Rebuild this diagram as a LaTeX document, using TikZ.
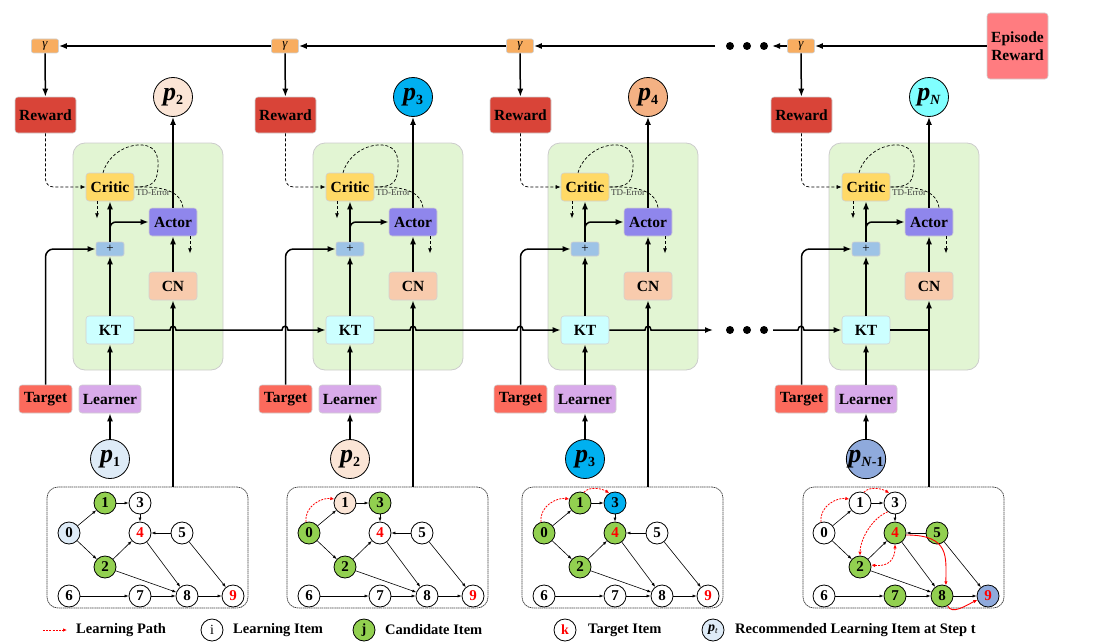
\documentclass[tikz,border=0pt]{standalone}
\usepackage{fontspec}
\setmainfont{Liberation Serif}
\usetikzlibrary{arrows.meta,calc}
\definecolor{cGam}{RGB}{248,173,96}
\definecolor{cRew}{RGB}{217,68,56}
\definecolor{cTarget}{RGB}{252,106,92}
\definecolor{cLearner}{RGB}{216,170,234}
\definecolor{cKT}{HTML}{CCFFFF}
\definecolor{cCN}{HTML}{F8CBAD}
\definecolor{cPlus}{HTML}{9DC3E6}
\definecolor{cCritic}{HTML}{FFD966}
\definecolor{cActor}{RGB}{143,134,236}
\definecolor{cPanel}{RGB}{226,245,211}
\definecolor{cP1}{HTML}{DEEBF7}
\definecolor{cP2}{HTML}{FBE5D6}
\definecolor{cP3}{HTML}{00B0F0}
\definecolor{cP4}{HTML}{F4B183}
\definecolor{cPN}{HTML}{80FFFF}
\definecolor{cPNa}{HTML}{8FAADC}
\definecolor{cEp}{RGB}{255,124,128}
\definecolor{cCand}{HTML}{92D050}
\newcommand\pp[1]{{\fontsize{26}{26}\selectfont\bfseries\itshape p}\raisebox{-4pt}{\fontsize{14}{14}\selectfont\bfseries #1}}
\newcommand\drawgraph[1]{%
  \node[gn,s0] (#1n0) at (69,533) {0};
  \node[gn,s1] (#1n1) at (105,503) {1};
  \node[gn,s3] (#1n3) at (140,503) {3};
  \node[gn,s4,text=red] (#1n4) at (140,533) {4};
  \node[gn,s5] (#1n5) at (182,533) {5};
  \node[gn,s2] (#1n2) at (105,567) {2};
  \node[gn,s6] (#1n6) at (69,596) {6};
  \node[gn,s7] (#1n7) at (140,596) {7};
  \node[gn,s8] (#1n8) at (187,596) {8};
  \node[gn,s9,text=red] (#1n9) at (233,596) {9};
  \draw[ge] (#1n0) -- (#1n1);
  \draw[ge] (#1n0) -- (#1n2);
  \draw[ge] (#1n1) -- (#1n3);
  \draw[ge] (#1n3) -- (#1n4);
  \draw[ge] (#1n5) -- (#1n4);
  \draw[ge] (#1n2) -- (#1n4);
  \draw[ge] (#1n4) -- (#1n8);
  \draw[ge] (#1n2) -- (#1n8);
  \draw[ge] (#1n5) -- (#1n9);
  \draw[ge] (#1n6) -- (#1n7);
  \draw[ge] (#1n7) -- (#1n8);
  \draw[ge] (#1n8) -- (#1n9);
}
\begin{document}
\begin{tikzpicture}[x=1pt,y=-1pt,
  box/.style={draw=black!18, line width=0.6pt, rounded corners=3pt,
    font=\fontsize{15.5}{15.5}\selectfont\bfseries, inner sep=0pt,
    minimum width=48pt, minimum height=28pt},
  gambox/.style={box, fill=cGam, minimum width=27pt, minimum height=14pt,
    font=\fontsize{13}{13}\selectfont\itshape, rounded corners=2pt},
  panel/.style={draw=black!20, line width=0.8pt, fill=cPanel, rounded corners=12pt,
    minimum width=150pt, minimum height=227pt, inner sep=0pt},
  gbox/.style={draw=black!75, line width=0.7pt, dash pattern=on 1.5pt off 0.6pt,
    rounded corners=11pt, minimum width=201pt, minimum height=121pt, inner sep=0pt},
  pc/.style={circle, draw, line width=0.8pt, minimum size=39pt, inner sep=0pt},
  arr/.style={line width=1.5pt, -{Latex[length=8pt,width=6pt]}},
  ln/.style={line width=1.5pt},
  dsh/.style={line width=0.7pt, dash pattern=on 3pt off 2pt},
  darr/.style={dsh, -{Latex[length=5pt,width=4pt]}},
  gn/.style={circle, draw, line width=0.8pt, minimum size=22pt, inner sep=0pt,
    font=\fontsize{15}{15}\selectfont\bfseries, fill=white},
  ge/.style={line width=0.6pt, -{Latex[length=4pt,width=3pt]}},
  rp/.style={red, line width=0.8pt, dash pattern=on 2pt off 1.2pt, -{Latex[length=4pt,width=3.5pt]}},
  rs/.style={red, line width=0.9pt, -{Latex[length=4pt,width=3.5pt]}},
  cand/.style={fill=cCand},
  s0/.style={}, s1/.style={}, s2/.style={}, s3/.style={}, s4/.style={},
  s5/.style={}, s6/.style={}, s7/.style={}, s8/.style={}, s9/.style={},
  leg/.style={font=\fontsize{14.5}{14.5}\selectfont\bfseries, anchor=west, inner sep=0pt}
]
\useasboundingbox (0,0) rectangle (1110,642);

% ---------- blocks ----------
\foreach \i/\ox/\ol/\oc/\il/\ic in {1/0/2/cP2/1/cP1, 2/240/3/cP3/2/cP2, 3/475/4/cP4/3/cP3, 4/756/{\textit{N}}/cPN/{\textit{N}-1}/cPNa}{
\begin{scope}[xshift=\ox pt]
  \node[panel] (panel\i) at (148,256.5) {};
  \node[gambox] (gam\i) at (45,46) {γ};
  \node[box, fill=cRew, minimum width=61pt, minimum height=36pt] (rew\i) at (45.5,115) {Reward};
  \node[pc, fill=\oc] (pout\i) at (173,97) {\pp{\ol}};
  \node[box, fill=cCritic] (critic\i) at (110,187) {Critic};
  \node[box, fill=cActor] (actor\i) at (173,222) {Actor};
  \node[box, fill=cPlus, minimum width=28pt, minimum height=14pt, rounded corners=2pt,
        font=\fontsize{13}{13}\selectfont] (plus\i) at (110,249) {+};
  \node[box, fill=cCN] (cn\i) at (173,286) {CN};
  \node[box, fill=cKT] (kt\i) at (110,330) {KT};
  \node[box, fill=cTarget, minimum width=53pt] (target\i) at (45.5,399) {Target};
  \node[box, fill=cLearner, minimum width=62pt] (learner\i) at (110,399) {Learner};
  \node[pc, fill=\ic] (pin\i) at (110,459) {\pp{\il}};
  \node[gbox] (gbox\i) at (147.5,547.5) {};
  \node[font=\fontsize{9}{9}\selectfont, text=black!75, inner sep=0pt] (td\i) at (153,193) {TD-Error};
  % connectors
  \draw[arr] (gam\i) -- (rew\i);
  \draw[darr, rounded corners=8pt] (rew\i.south) |- (critic\i.west);
  \draw[dsh] ([xshift=-7pt]critic\i.north) .. controls (108,155) and (126,144) .. (142,145)
     .. controls (158,146) and (160,160) .. (157,175) .. controls (155,186) and (145,187) .. (critic\i.east);
  \draw[dsh] (critic\i.east) .. controls (165,186) and (181,192) .. ([xshift=10pt]actor\i.north);
  \draw[darr] ([xshift=-13pt]critic\i.south) -- ++(0,17);
  \draw[darr] ([xshift=17pt]actor\i.south) -- ++(0,17);
  \draw[arr] (plus\i) -- (critic\i);
  \draw[arr, rounded corners=6pt] ([yshift=6pt]plus\i.north) |- (actor\i.west);
  \draw[arr] (kt\i) -- (plus\i);
  \draw[arr] (learner\i) -- (kt\i);
  \draw[arr] (pin\i) -- (learner\i);
  \draw[arr] (cn\i) -- (actor\i);
  \draw[arr] (actor\i) -- (pout\i);
  \draw[arr, rounded corners=8pt] (target\i.north) |- (plus\i.west);
  \draw[arr] (gbox\i.north -| cn\i.south) -- (cn\i.south);
\end{scope}
}

% ---------- top reward chain ----------
\node[box, fill=cEp, minimum width=61pt, minimum height=66pt, align=center,
      font=\fontsize{15.5}{18}\selectfont\bfseries] (ep) at (1017.5,46) {Episode\\Reward};
\coordinate (tR) at (772,46);
\coordinate (tL) at (715,46);
\draw[arr] (ep) -- (gam4);
\draw[arr] (gam4) -- (tR);
\draw[arr] (tL) -- (gam3);
\draw[arr] (gam3) -- (gam2);
\draw[arr] (gam2) -- (gam1);
\foreach \x in {730,747,764}{\fill (\x,46) circle (4pt); \fill (\x,330) circle (4pt);}

% ---------- KT chain with hops ----------
\coordinate (kR) at (713,330);
\coordinate (kL) at (773,330);
\draw[arr] (kt1.east) -- (170,330) .. controls (170,325) and (176,325) .. (176,330)
  -- (282,330) .. controls (282,325) and (288,325) .. (288,330) -- (kt2.west);
\draw[arr] (kt2.east) -- (410,330) .. controls (410,325) and (416,325) .. (416,330)
  -- (517,330) .. controls (517,325) and (523,325) .. (523,330) -- (kt3.west);
\draw[arr] (kt3.east) -- (645,330) .. controls (645,325) and (651,325) .. (651,330) -- (kR);
\draw[arr] (kL) -- (798,330) .. controls (798,325) and (804,325) .. (804,330) -- (kt4.west);
\draw[ln] (kt4.east) -- (kt4.east -| cn4.south);

% ---------- graphs ----------
\begin{scope}[s0/.style={fill=cP1}, s1/.style={cand}, s2/.style={cand}]
  \drawgraph{a}
\end{scope}
\begin{scope}[xshift=240pt, s0/.style={cand}, s1/.style={fill=cP2}, s2/.style={cand}, s3/.style={cand}]
  \drawgraph{b}
  \draw[rp] (bn0.105) .. controls +(-2,-16) and +(-12,-2) .. (bn1.160);
\end{scope}
\begin{scope}[xshift=475pt, s0/.style={cand}, s1/.style={cand}, s2/.style={cand}, s3/.style={fill=cP3}, s4/.style={cand}]
  \drawgraph{c}
  \draw[rp] (cn0.105) .. controls +(-2,-16) and +(-12,-2) .. (cn1.160);
  \draw[rp] (cn1.70) .. controls +(5,-6) and +(-8,-5) .. (cn3.120);
\end{scope}
\begin{scope}[xshift=755pt, s2/.style={cand}, s4/.style={cand}, s5/.style={cand},
   s7/.style={cand}, s8/.style={cand}, s9/.style={fill=cPNa}]
  \drawgraph{d}
  \draw[rp] (dn0.105) .. controls +(-2,-16) and +(-12,-2) .. (dn1.160);
  \draw[rp] (dn1.70) .. controls +(5,-6) and +(-8,-5) .. (dn3.120);
  \draw[rp] (dn3.230) .. controls +(-18,8) and +(0,-14) .. (dn2.north);
  \draw[rp, {Latex[length=4pt,width=3.5pt]}-{Latex[length=4pt,width=3.5pt]}] (dn2.10) .. controls +(18,2) and +(0,14) .. (dn4.south);
  \draw[rs] (dn4.-10) .. controls +(44,0) and +(0,-28) .. (dn8.70);
  \draw[rs] (dn8.-60) .. controls +(4,9) and +(-12,6) .. (dn9.200);
\end{scope}

% ---------- legend ----------
\coordinate (lp1) at (43,630);
\coordinate (lp2) at (67,630);
\draw[rp] (lp1) -- (lp2);
\node[leg] (lt1) at (76,630) {Learning Path};
\node[gn, font=\fontsize{14}{14}\selectfont] (li) at (212,630) {i};
\node[leg] (lt2) at (233,630) {Learning Item};
\node[gn, cand, font=\fontsize{14}{14}\selectfont\bfseries] (lj) at (364,630) {j};
\node[leg] (lt3) at (385,630) {Candidate Item};
\node[gn, text=red, font=\fontsize{14}{14}\selectfont\bfseries] (lk) at (565,630) {k};
\node[leg] (lt4) at (588,630) {Target Item};
\node[gn, fill=cP1, font=\fontsize{14}{14}\selectfont] (lpt) at (713,630) {\textbf{\textit{p}}\raisebox{-2pt}{\fontsize{9}{9}\selectfont\textit{t}}};
\node[leg] (lt5) at (735,630) {Recommended Learning Item at Step t};
\end{tikzpicture}
\end{document}
